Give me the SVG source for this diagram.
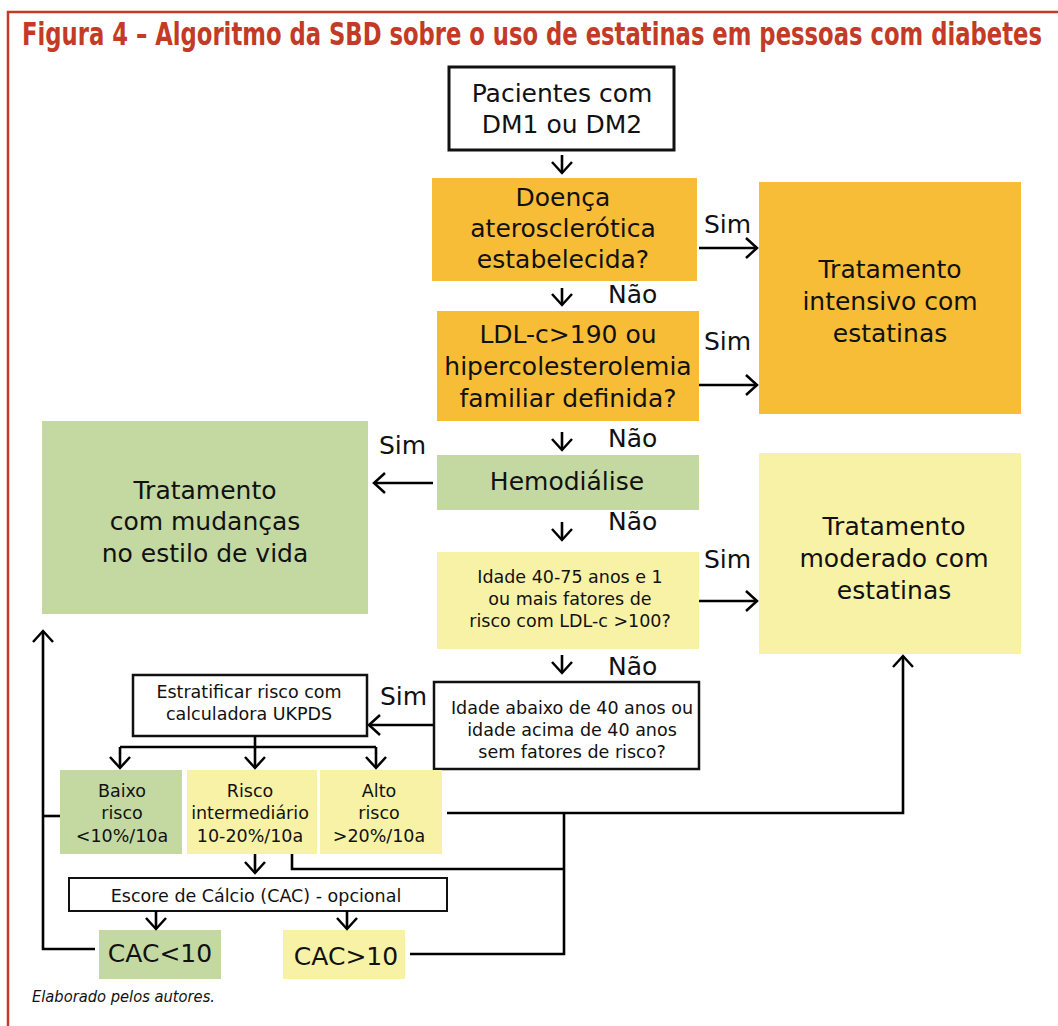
<svg xmlns="http://www.w3.org/2000/svg" width="1058" height="1026" viewBox="0 0 1058 1026">
<defs>
<marker id="ah" markerUnits="userSpaceOnUse" viewBox="-14 -12 16 24" markerWidth="16" markerHeight="24" refX="0" refY="0" orient="auto" overflow="visible">
<path d="M-11,-10 L0,0 L-11,10" fill="none" stroke="#000" stroke-width="2.5"/>
</marker>
<style>
.t{font-family:"DejaVu Sans","Liberation Sans",sans-serif;fill:#111;text-anchor:middle}
.b{font-size:25px}
.s{font-size:17.5px}
.lbl{font-family:"DejaVu Sans","Liberation Sans",sans-serif;font-size:25px;fill:#111}
.or{fill:#F8BD36}
.gr{fill:#C4D9A2}
.ye{fill:#F8F2A6}
.wb{fill:#fff;stroke:#111}
.c{fill:none;stroke:#000;stroke-width:2.6}
.ca{fill:none;stroke:#000;stroke-width:2.6;marker-end:url(#ah)}
</style>
</defs>
<rect width="1058" height="1026" fill="#fff"/>
<g id="frame">
<path d="M8,1026 V12 H1058" fill="none" stroke="#C33B26" stroke-width="2.5"/>
<text transform="translate(22,45) scale(1,1.45)" x="0" y="0" font-family="'DejaVu Sans Condensed','Liberation Sans Narrow','DejaVu Sans',sans-serif" font-weight="bold" font-size="22" fill="#C33B26" textLength="1020" lengthAdjust="spacingAndGlyphs">Figura 4 – Algoritmo da SBD sobre o uso de estatinas em pessoas com diabetes</text>
<text x="32" y="1002" font-family="'DejaVu Sans Condensed','Liberation Sans Narrow','DejaVu Sans',sans-serif" font-style="italic" font-size="15" fill="#111" textLength="183" lengthAdjust="spacingAndGlyphs">Elaborado pelos autores.</text>
</g>
<g id="n-pacientes">
<rect class="wb" x="449" y="67" width="225" height="83" stroke-width="3"/>
<text class="t b" x="562" y="102">Pacientes com</text>
<text class="t b" x="562" y="133">DM1 ou DM2</text>
</g>
<g id="n-doenca">
<rect class="or" x="432" y="178" width="265" height="103"/>
<text class="t b" x="563" y="206">Doença</text>
<text class="t b" x="563" y="237">aterosclerótica</text>
<text class="t b" x="563" y="268">estabelecida?</text>
</g>
<g id="n-ldl">
<rect class="or" x="437" y="311" width="262" height="110"/>
<text class="t b" x="568" y="343">LDL-c&gt;190 ou</text>
<text class="t b" x="568" y="375">hipercolesterolemia</text>
<text class="t b" x="568" y="407">familiar definida?</text>
</g>
<g id="n-hemo">
<rect class="gr" x="437" y="455" width="262" height="55"/>
<text class="t b" x="567" y="490">Hemodiálise</text>
</g>
<g id="n-idade4075">
<rect class="ye" x="437" y="552" width="262" height="97"/>
<text class="t s" x="570" y="583">Idade 40-75 anos e 1</text>
<text class="t s" x="570" y="605">ou mais fatores de</text>
<text class="t s" x="570" y="627">risco com LDL-c &gt;100?</text>
</g>
<g id="n-idadeabaixo">
<rect class="wb" x="434" y="682" width="265" height="87" stroke-width="2.5"/>
<text class="t s" x="572" y="714">Idade abaixo de 40 anos ou</text>
<text class="t s" x="572" y="736">idade acima de 40 anos</text>
<text class="t s" x="572" y="758">sem fatores de risco?</text>
</g>
<g id="n-intensivo">
<rect class="or" x="759" y="182" width="262" height="232"/>
<text class="t b" x="890" y="278">Tratamento</text>
<text class="t b" x="890" y="310">intensivo com</text>
<text class="t b" x="890" y="342">estatinas</text>
</g>
<g id="n-moderado">
<rect class="ye" x="759" y="453" width="262" height="201"/>
<text class="t b" x="894" y="535">Tratamento</text>
<text class="t b" x="894" y="567">moderado com</text>
<text class="t b" x="894" y="599">estatinas</text>
</g>
<g id="n-mudancas">
<rect class="gr" x="42" y="421" width="326" height="193"/>
<text class="t b" x="205" y="499">Tratamento</text>
<text class="t b" x="205" y="530">com mudanças</text>
<text class="t b" x="205" y="562">no estilo de vida</text>
</g>
<g id="n-estratificar">
<rect class="wb" x="133" y="675" width="234" height="61" stroke-width="2.5"/>
<text class="t s" x="249" y="698">Estratificar risco com</text>
<text class="t s" x="249" y="720">calculadora UKPDS</text>
</g>
<g id="n-baixo">
<rect class="gr" x="60" y="770" width="122" height="84"/>
<text class="t s" x="122" y="797">Baixo</text>
<text class="t s" x="122" y="819">risco</text>
<text class="t s" x="122" y="842">&lt;10%/10a</text>
</g>
<g id="n-intermediario">
<rect class="ye" x="187" y="770" width="130" height="84"/>
<text class="t s" x="250" y="797">Risco</text>
<text class="t s" x="250" y="819">intermediário</text>
<text class="t s" x="250" y="842">10-20%/10a</text>
</g>
<g id="n-alto">
<rect class="ye" x="320" y="770" width="122" height="84"/>
<text class="t s" x="379" y="797">Alto</text>
<text class="t s" x="379" y="819">risco</text>
<text class="t s" x="379" y="842">&gt;20%/10a</text>
</g>
<g id="n-escore">
<rect class="wb" x="69" y="878" width="378" height="33" stroke-width="2"/>
<text class="t s" x="256" y="902">Escore de Cálcio (CAC) - opcional</text>
</g>
<g id="n-cacmenor">
<rect class="gr" x="99" y="930" width="122" height="49"/>
<text class="t b" x="160" y="962">CAC&lt;10</text>
</g>
<g id="n-cacmaior">
<rect class="ye" x="283" y="930" width="122" height="49"/>
<text class="t b" x="346" y="965">CAC&gt;10</text>
</g>
<g id="connectors">
<path class="ca" d="M562,155 V173"/>
<path class="ca" d="M562,288 V305"/>
<path class="ca" d="M562,432 V450"/>
<path class="ca" d="M562,522 V540"/>
<path class="ca" d="M562,655 V673"/>
<path class="ca" d="M699,248 H757"/>
<path class="ca" d="M699,385 H757"/>
<path class="ca" d="M699,601 H757"/>
<path class="ca" d="M433,483 H374"/>
<path class="ca" d="M433,725 H369"/>
<path class="ca" d="M255,736 V768"/>
<path class="c" d="M120,747 H376"/>
<path class="ca" d="M120,747 V768"/>
<path class="ca" d="M376,747 V768"/>
<path class="ca" d="M255,854 V873"/>
<path class="ca" d="M156,911 V929"/>
<path class="ca" d="M347,911 V929"/>
<path class="ca" d="M95,949 H43 V631"/>
<path class="c" d="M60,816 H43"/>
<path class="ca" d="M447,813 H903 V656"/>
<path class="c" d="M564,813 V954 H410"/>
<path class="c" d="M292,854 V869 H564"/>
<text class="lbl" x="704" y="233">Sim</text>
<text class="lbl" x="704" y="350">Sim</text>
<text class="lbl" x="704" y="568">Sim</text>
<text class="lbl" x="379" y="454">Sim</text>
<text class="lbl" x="380" y="705">Sim</text>
<text class="lbl" x="608" y="303">Não</text>
<text class="lbl" x="608" y="447">Não</text>
<text class="lbl" x="608" y="530">Não</text>
<text class="lbl" x="608" y="675">Não</text>
</g>
</svg>
